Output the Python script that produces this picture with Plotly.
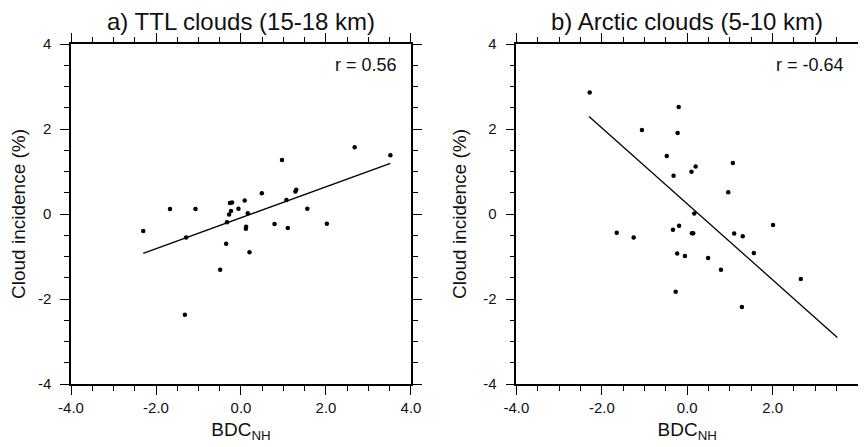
import plotly.graph_objects as go

# ---- data ----
bdc_a = [-2.30, -1.67, -1.29, -1.32, -1.07, -0.49, -0.35, -0.26, -0.21, -0.06,
         -0.235, -0.28, -0.33, 0.087, 0.16, 0.12, 0.115, 0.20, 0.49, 0.79,
         0.965, 1.07, 1.10, 1.28, 1.30, 1.56, 2.02, 2.675, 3.515]
ttl = [-0.40, 0.12, -0.55, -2.37, 0.12, -1.31, -0.70, 0.26, 0.27, 0.125,
       0.07, -0.01, -0.195, 0.32, 0.02, -0.30, -0.345, -0.90, 0.49, -0.235,
       1.27, 0.33, -0.33, 0.53, 0.57, 0.125, -0.23, 1.57, 1.38]

bdc_b = [-2.285, -1.65, -1.255, -1.06, -0.48, -0.335, -0.32, -0.27, -0.235, -0.225,
         -0.20, -0.19, -0.055, 0.10, 0.11, 0.14, 0.165, 0.197, 0.49, 0.79,
         0.96, 1.07, 1.10, 1.28, 1.30, 1.56, 2.01, 2.66]
arctic = [2.86, -0.44, -0.555, 1.976, 1.365, -0.37, 0.90, -1.83, -0.93, 1.905,
          2.52, -0.275, -0.99, 0.995, -0.455, -0.455, 0.01, 1.12, -1.035, -1.31,
          0.51, 1.20, -0.46, -2.19, -0.525, -0.92, -0.26, -1.53]

fit_a = (0.3637, -0.088)   # slope, intercept
fit_b = (-0.894, 0.239)
fit_xrange = (-2.30, 3.515)

r_a = "r = 0.56"
r_b = "r = -0.64"
titles = ["a) TTL clouds (15-18 km)", "b) Arctic clouds (5-10 km)"]

x_tickvals = [-4, -2, 0, 2, 4]
x_ticktext = ["-4.0", "-2.0", "0.0", "2.0", "4.0"]
y_tickvals = [-4, -2, 0, 2, 4]
y_ticktext = ["-4", "-2", "0", "2", "4"]

FONT = "Liberation Sans, Arial, Helvetica, sans-serif"
TXT = "#111"

fig = go.Figure()

panels = [
    (bdc_a, ttl, fit_a, "x", "y"),
    (bdc_b, arctic, fit_b, "x2", "y2"),
]
for xs, ys, (m, c), xa, ya in panels:
    lx = list(fit_xrange)
    ly = [m * v + c for v in lx]
    fig.add_trace(go.Scatter(x=lx, y=ly, mode="lines", xaxis=xa, yaxis=ya,
                             line=dict(color="black", width=1.3), showlegend=False,
                             hoverinfo="skip"))
    fig.add_trace(go.Scatter(x=xs, y=ys, mode="markers", xaxis=xa, yaxis=ya,
                             marker=dict(color="black", size=4.5, line=dict(width=0)),
                             showlegend=False))

def xaxis(domain, anchor):
    return dict(domain=domain, anchor=anchor, range=[-4, 4], automargin=False,
                tickvals=x_tickvals, ticktext=x_ticktext,
                ticks="outside", ticklen=9, tickwidth=1.3, tickcolor="black",
                minor=dict(dtick=0.5, tick0=0, ticks="outside", ticklen=5,
                           tickwidth=1, tickcolor="black", showgrid=False),
                showline=True, linecolor="black", linewidth=1.5, mirror="ticks",
                showgrid=False, zeroline=False,
                tickfont=dict(family=FONT, size=15, color=TXT),
                title=dict(text="BDC<sub>NH</sub>", standoff=8,
                           font=dict(family=FONT, size=19, color=TXT)))

def yaxis(anchor):
    return dict(domain=[0, 1], anchor=anchor, range=[-4, 4], automargin=False,
                tickvals=y_tickvals, ticktext=y_ticktext,
                ticks="outside", ticklen=9, tickwidth=1.3, tickcolor="black",
                ticklabelstandoff=6,
                minor=dict(dtick=0.5, tick0=0, ticks="outside", ticklen=5,
                           tickwidth=1, tickcolor="black", showgrid=False),
                showline=True, linecolor="black", linewidth=1.5, mirror="ticks",
                showgrid=False, zeroline=False,
                tickfont=dict(family=FONT, size=15, color=TXT),
                title=dict(text="Cloud incidence (%)", standoff=12,
                           font=dict(family=FONT, size=19, color=TXT)))

# the page body has an 8px default margin, so the figure is offset by (8, 8)
fig.update_layout(
    width=858, height=439,
    margin=dict(l=63, r=8, t=36, b=63),
    paper_bgcolor="white", plot_bgcolor="white",
    xaxis=xaxis([0, 0.432], "y"),
    yaxis=yaxis("x"),
    xaxis2=xaxis([0.566, 1.0], "y2"),
    yaxis2=yaxis("x2"),
    font=dict(family=FONT, color=TXT),
)

for i, (t, r) in enumerate(zip(titles, [r_a, r_b])):
    xr = "x domain" if i == 0 else "x2 domain"
    yr = "y domain" if i == 0 else "y2 domain"
    fig.add_annotation(text=t, xref=xr, yref="paper", x=0.5, y=1, yshift=38,
                       yanchor="top", showarrow=False,
                       font=dict(family=FONT, size=24, color=TXT))
    fig.add_annotation(text=r, xref=xr, yref=yr, x=0.965, y=0.975,
                       xanchor="right", yanchor="top", showarrow=False,
                       font=dict(family=FONT, size=18, color=TXT))

fig.write_html("out.html")
